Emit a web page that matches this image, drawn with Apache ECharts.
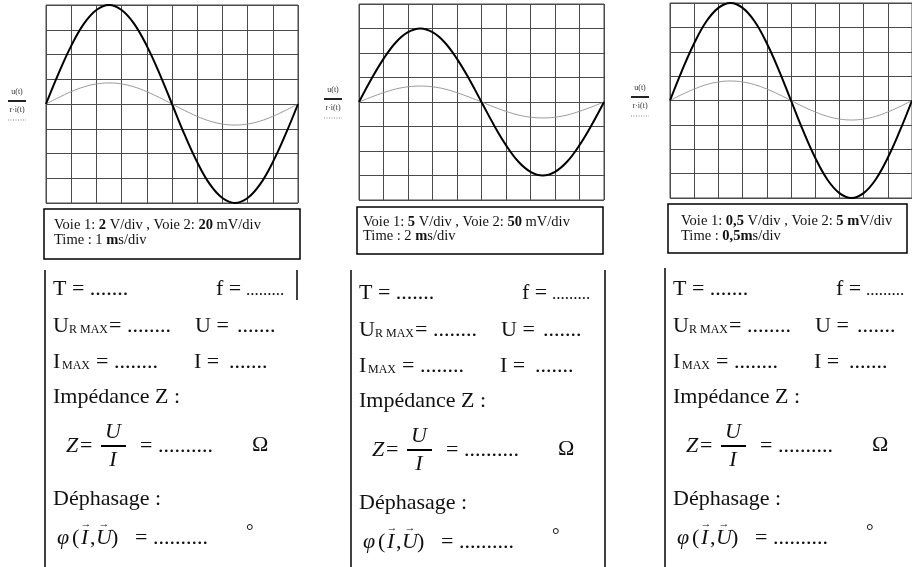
<!DOCTYPE html>
<html>
<head>
<meta charset="utf-8">
<script src="https://cdn.jsdelivr.net/npm/echarts@6/dist/echarts.min.js"></script>
<style>
  html, body { margin: 0; padding: 0; background: #fff; }
  #chart { width: 912px; height: 567px; }
</style>
</head>
<body>
<div id="chart"></div>
<script>
// Time axis samples, in screen divisions
const divs = [0, 0.5, 1, 1.5, 2, 2.5, 3, 3.5, 4, 4.5, 5, 5.5, 6, 6.5, 7, 7.5, 8, 8.5, 9, 9.5, 10];

// Screen 1 (divisions): u(t) on channel 1, r·i(t) on channel 2
const u1  = [0, 1.24, 2.35, 3.24, 3.8, 4, 3.8, 3.24, 2.35, 1.24, 0, -1.24, -2.35, -3.24, -3.8, -4, -3.8, -3.24, -2.35, -1.24, 0];
const ri1 = [0, 0.26, 0.5, 0.69, 0.81, 0.85, 0.81, 0.69, 0.5, 0.26, 0, -0.26, -0.5, -0.69, -0.81, -0.85, -0.81, -0.69, -0.5, -0.26, 0];

// Screen 2
const u2  = [0, 0.93, 1.76, 2.43, 2.85, 3, 2.85, 2.43, 1.76, 0.93, 0, -0.93, -1.76, -2.43, -2.85, -3, -2.85, -2.43, -1.76, -0.93, 0];
const ri2 = [0, 0.2, 0.38, 0.53, 0.62, 0.65, 0.62, 0.53, 0.38, 0.2, 0, -0.2, -0.38, -0.53, -0.62, -0.65, -0.62, -0.53, -0.38, -0.2, 0];

// Screen 3
const u3  = [0, 1.24, 2.35, 3.24, 3.8, 4, 3.8, 3.24, 2.35, 1.24, 0, -1.24, -2.35, -3.24, -3.8, -4, -3.8, -3.24, -2.35, -1.24, 0];
const ri3 = [0, 0.25, 0.47, 0.65, 0.76, 0.8, 0.76, 0.65, 0.47, 0.25, 0, -0.25, -0.47, -0.65, -0.76, -0.8, -0.76, -0.65, -0.47, -0.25, 0];

// Caption lines for each screen: [text, bold] fragments
const captionLine1 = [
  [['Voie 1: ', 0], ['2', 1], [' V/div , Voie 2: ', 0], ['20', 1], [' mV/div', 0]],
  [['Voie 1: ', 0], ['5', 1], [' V/div , Voie 2: ', 0], ['50', 1], [' mV/div', 0]],
  [['Voie 1: ', 0], ['0,5', 1], [' V/div , Voie 2: ', 0], ['5 m', 1], ['V/div', 0]]
];
const captionLine2 = [
  [['Time : 1 ', 0], ['m', 1], ['s/div', 0]],
  [['Time : 2 ', 0], ['m', 1], ['s/div', 0]],
  [['Time : ', 0], ['0,5m', 1], ['s/div', 0]]
];

const SERIF = '"Liberation Serif", "Times New Roman", serif';
const INK = '#111';
const GRIDLINE = '#4a4a4a';

const screens = [
  { u: u1, ri: ri1, left: 46,  top: 5, width: 252, height: 198 },
  { u: u2, ri: ri2, left: 359, top: 4, width: 245, height: 196 },
  { u: u3, ri: ri3, left: 670, top: 3, width: 252, height: 195 }
];

const grids = [], xAxes = [], yAxes = [], series = [];
screens.forEach((s, i) => {
  grids.push({ left: s.left, top: s.top, width: s.width, height: s.height,
               show: true, borderColor: GRIDLINE, borderWidth: 1, containLabel: false });
  xAxes.push({ type: 'value', gridIndex: i, min: 0, max: 10, interval: 1,
               axisLine: { show: false }, axisTick: { show: false }, axisLabel: { show: false },
               splitLine: { show: true, lineStyle: { color: GRIDLINE, width: 1 } } });
  yAxes.push({ type: 'value', gridIndex: i, min: -4, max: 4, interval: 1,
               axisLine: { show: false }, axisTick: { show: false }, axisLabel: { show: false },
               splitLine: { show: true, lineStyle: { color: GRIDLINE, width: 1 } } });
  series.push({ type: 'line', xAxisIndex: i, yAxisIndex: i, showSymbol: false, smooth: 0.4,
                silent: true, z: 3,
                data: divs.map((t, k) => [t, s.ri[k]]),
                lineStyle: { color: '#9a9a9a', width: 1 } });
  series.push({ type: 'line', xAxisIndex: i, yAxisIndex: i, showSymbol: false, smooth: 0.4,
                silent: true, z: 4,
                data: divs.map((t, k) => [t, s.u[k]]),
                lineStyle: { color: '#000', width: 2 } });
});

// ---- helpers for the graphic layer ----
function txt(x, y, text, size, opts) {
  opts = opts || {};
  return {
    type: 'text', x: x, y: y, silent: true, z: 10,
    style: {
      text: text,
      font: (opts.italic ? 'italic ' : '') + (opts.bold ? 'bold ' : '') + size + 'px ' + SERIF,
      fill: opts.fill || INK,
      textAlign: opts.align || 'left', align: opts.align || 'left',
      textVerticalAlign: 'middle', verticalAlign: 'middle'
    }
  };
}
function line(x1, y1, x2, y2, w, color, dash) {
  return {
    type: 'line', silent: true, z: 10,
    shape: { x1: x1, y1: y1, x2: x2, y2: y2 },
    style: { stroke: color || INK, lineWidth: w || 1, lineDash: dash || null }
  };
}
function richLine(x, y, parts, size) {
  const rich = {
    n: { fontSize: size, fontFamily: SERIF, fill: INK },
    b: { fontSize: size, fontFamily: SERIF, fontWeight: 'bold', fill: INK }
  };
  return {
    type: 'text', x: x, y: y, silent: true, z: 10,
    style: {
      text: parts.map(p => '{' + (p[1] ? 'b' : 'n') + '|' + p[0] + '}').join(''),
      rich: rich, fontSize: size, fontFamily: SERIF,
      textVerticalAlign: 'middle', verticalAlign: 'middle'
    }
  };
}

const graphics = [];

// trace legends at the left of each screen
const legendPos = [ { cx: 17, y: 92 }, { cx: 333, y: 90 }, { cx: 640, y: 88 } ];
legendPos.forEach(p => {
  graphics.push(txt(p.cx, p.y, 'u(t)', 8, { align: 'center', fill: '#333' }));
  graphics.push(line(p.cx - 9, p.y + 9, p.cx + 9, p.y + 9, 2, '#222'));
  graphics.push(txt(p.cx, p.y + 18, 'r·i(t)', 8, { align: 'center', fill: '#333' }));
  graphics.push(line(p.cx - 9, p.y + 28, p.cx + 9, p.y + 28, 1, '#888', [1, 1.5]));
});

// caption boxes with the channel / time base settings
const captionBoxes = [
  { x: 44,  y: 209, w: 256, h: 50, tx: 54,  ty1: 225, ty2: 240 },
  { x: 357, y: 207, w: 246, h: 47, tx: 363, ty1: 222, ty2: 236 },
  { x: 668, y: 204, w: 239, h: 49, tx: 681, ty1: 221, ty2: 236 }
];
captionBoxes.forEach((b, i) => {
  graphics.push({
    type: 'rect', silent: true, z: 9,
    shape: { x: b.x, y: b.y, width: b.w, height: b.h },
    style: { fill: '#fff', stroke: '#000', lineWidth: 1.5 }
  });
  graphics.push(richLine(b.tx, b.ty1, captionLine1[i], 14.5));
  graphics.push(richLine(b.tx, b.ty2, captionLine2[i], 14.5));
});

// worksheet blocks under each screen
const blocks = [
  { dx: 0,   dy: 0, lineTop: 270, right: 297, rightBottom: 300 },
  { dx: 306, dy: 4, lineTop: 270, right: 605, rightBottom: 567 },
  { dx: 620, dy: 0, lineTop: 268, right: null }
];
const F = 22;
blocks.forEach(bk => {
  const X = v => v + bk.dx, Y = v => v + bk.dy;
  graphics.push(line(X(45), bk.lineTop, X(45), 567, 1.5, '#000'));
  if (bk.right) graphics.push(line(bk.right, bk.lineTop, bk.right, bk.rightBottom, 1.5, '#000'));

  graphics.push(txt(X(53), Y(289), 'T = .......', F));
  graphics.push(txt(X(216), Y(289), 'f =', F));
  graphics.push(txt(X(246), Y(291), '.........', 17));

  graphics.push(txt(X(53), Y(326), 'U', F));
  graphics.push(txt(X(69), Y(330), 'R MAX', 12));
  graphics.push(txt(X(109), Y(326), '= ........', F));
  graphics.push(txt(X(195), Y(326), 'U =', F));
  graphics.push(txt(X(237), Y(326), '.......', F));

  graphics.push(txt(X(53), Y(362), 'I', F));
  graphics.push(txt(X(62), Y(366), 'MAX', 12));
  graphics.push(txt(X(96), Y(362), '= ........', F));
  graphics.push(txt(X(194), Y(362), 'I =', F));
  graphics.push(txt(X(229), Y(362), '.......', F));

  graphics.push(txt(X(53), Y(397), 'Impédance Z :', F));

  graphics.push(txt(X(66), Y(446), 'Z', F, { italic: true }));
  graphics.push(txt(X(80), Y(446), '=', F));
  graphics.push(txt(X(113), Y(432), 'U', F, { italic: true, align: 'center' }));
  graphics.push(line(X(101), Y(446), X(126), Y(446), 2, '#000'));
  graphics.push(txt(X(113), Y(460), 'I', F, { italic: true, align: 'center' }));
  graphics.push(txt(X(140), Y(446), '= ..........', F));
  graphics.push(txt(X(252), Y(445), 'Ω', F));

  graphics.push(txt(X(53), Y(499), 'Déphasage :', F));

  graphics.push(txt(X(57), Y(538), 'φ', F, { italic: true }));
  graphics.push(txt(X(72), Y(538), '(', F));
  graphics.push(txt(X(81), Y(538), 'I', F, { italic: true }));
  graphics.push(txt(X(86), Y(524), '→', 11, { align: 'center' }));
  graphics.push(txt(X(90), Y(538), ',', F));
  graphics.push(txt(X(96), Y(538), 'U', F, { italic: true }));
  graphics.push(txt(X(104), Y(524), '→', 11, { align: 'center' }));
  graphics.push(txt(X(111), Y(538), ')', F));
  graphics.push(txt(X(135), Y(538), '= ..........', F));
  graphics.push(txt(X(246), Y(532), '°', 19));
});

const chart = echarts.init(document.getElementById('chart'), null, { renderer: 'canvas' });
chart.setOption({
  animation: false,
  backgroundColor: '#ffffff',
  grid: grids,
  xAxis: xAxes,
  yAxis: yAxes,
  series: series,
  graphic: { elements: graphics }
});
</script>
</body>
</html>
